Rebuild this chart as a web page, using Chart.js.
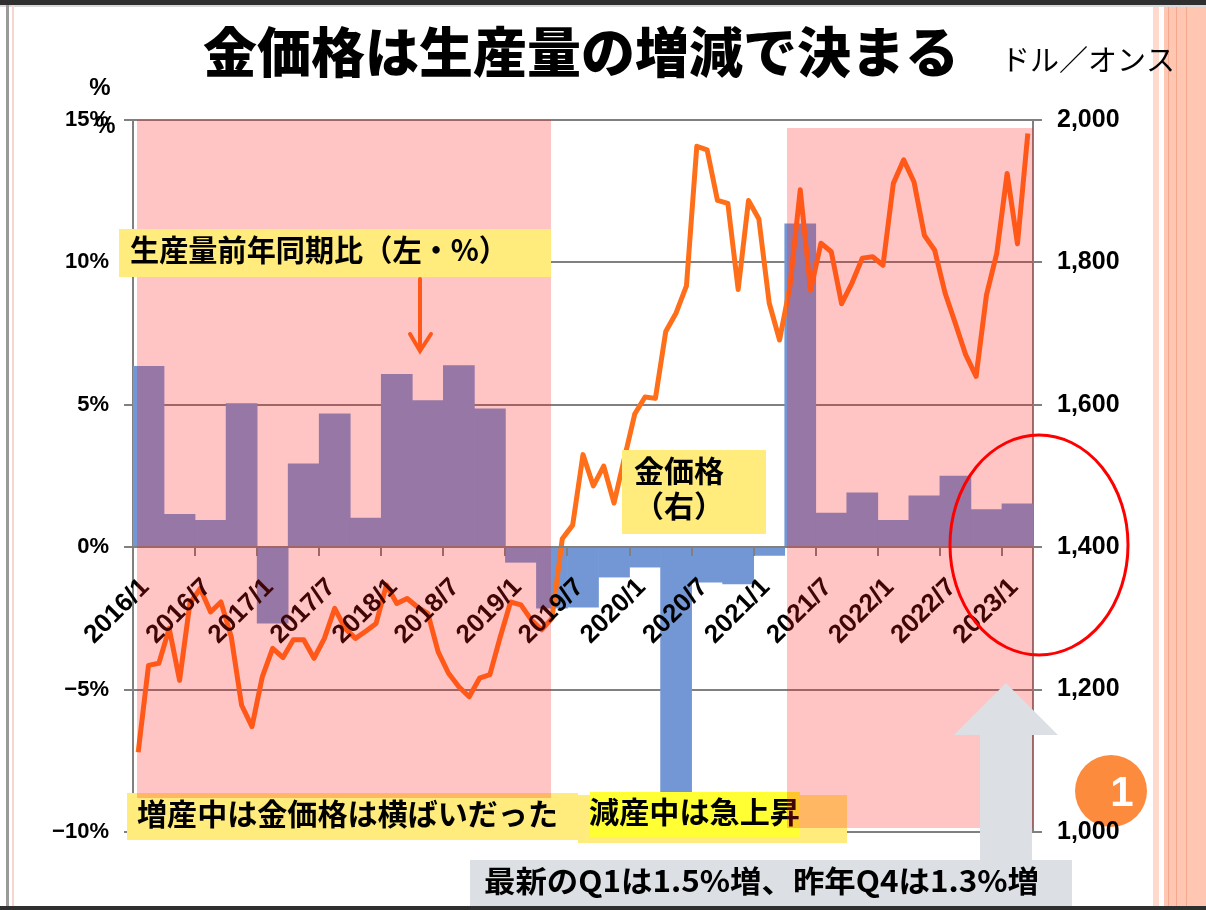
<!DOCTYPE html>
<html lang="ja">
<head>
<meta charset="utf-8">
<title>金価格は生産量の増減で決まる</title>
<script src="https://cdn.jsdelivr.net/npm/chart.js@4.4.1/dist/chart.umd.min.js"></script>
<style>
  html, body { margin: 0; padding: 0; background: #fff; }
  #wrap { width: 1206px; height: 910px; }
</style>
</head>
<body>
<div id="wrap"><canvas id="goldChart" width="1206" height="910"></canvas></div>
<script>
// 生産量前年同期比（四半期、%）2016Q1〜2023Q1
const productionYoY = [
  6.35, 1.15, 0.94, 5.04,
  -2.67, 2.93, 4.68, 1.02,
  6.07, 5.15, 6.38, 4.86,
  -0.53, -2.14, -2.11, -1.05,
  -0.70, -8.70, -1.23, -1.29,
  -0.29, 11.35, 1.20, 1.91,
  0.94, 1.80, 2.50, 1.32,
  1.52
];

// 金価格（月末、ドル／オンス）2016/1〜2023/3
const goldPrice = [
  1112, 1234, 1237, 1286, 1213, 1321, 1342, 1309, 1323, 1274, 1178, 1148,
  1218, 1258, 1245, 1270, 1270, 1244, 1272, 1314, 1286, 1272, 1282, 1293,
  1347, 1321, 1328, 1316, 1307, 1253, 1223, 1204, 1190, 1216, 1221, 1274,
  1323, 1319, 1298, 1284, 1300, 1412, 1431, 1530, 1486, 1514, 1462, 1525,
  1587, 1611, 1609, 1703, 1729, 1767, 1963, 1958, 1887, 1883, 1762, 1887,
  1861, 1743, 1691, 1766, 1902, 1761, 1827, 1815, 1742, 1771, 1806, 1808,
  1796, 1911, 1944, 1913, 1838, 1817, 1757, 1714, 1670, 1640, 1754, 1813,
  1925, 1826, 1981
];

// 軸ラベル
const monthLabels = [];
for (let y = 2016; y <= 2023; y++) {
  for (let m = 1; m <= 12; m++) {
    if (monthLabels.length < goldPrice.length) monthLabels.push(y + '/' + m);
  }
}
const quarterLabels = [];
for (let y = 2016; y <= 2023; y++) {
  for (let q = 1; q <= 4; q++) {
    if (quarterLabels.length < productionYoY.length) quarterLabels.push(y + 'Q' + q);
  }
}
const shownMonths = ['2016/1', '2016/7', '2017/1', '2017/7', '2018/1', '2018/7', '2019/1', '2019/7',
  '2020/1', '2020/7', '2021/1', '2021/7', '2022/1', '2022/7', '2023/1'];
const pctTicks = [-10, -5, 0, 5, 10, 15];
const priceTicks = [1000, 1200, 1400, 1600, 1800, 2000];

const LINE = '#FF6E19';
const BAR = '#7397D5';
const PINK = 'rgba(255, 25, 25, 0.25)';
const YELLOW = '#FFEC7C';
const GRAYBOX = '#DCDFE4';
const AXIS = '#808080';
const JP = '"Noto Sans CJK JP", "Noto Sans", sans-serif';
const LAT = '"Liberation Sans", Arial, sans-serif';

// 文字を指定幅に合わせて描く
function fitText(ctx, text, x, y, font, width) {
  ctx.save();
  ctx.font = font;
  ctx.textAlign = 'left';
  ctx.textBaseline = 'middle';
  const w = ctx.measureText(text).width;
  ctx.translate(x, y);
  if (width) ctx.scale(width / w, 1);
  ctx.fillText(text, 0, 0);
  ctx.restore();
}

function box(ctx, x1, y1, x2, y2, color) {
  ctx.fillStyle = color;
  ctx.fillRect(x1, y1, x2 - x1, y2 - y1);
}

const decor = {
  id: 'decor',
  beforeDraw(chart) {
    const ctx = chart.ctx;
    ctx.save();
    ctx.fillStyle = '#fff';
    ctx.fillRect(0, 0, chart.width, chart.height);
    // スライドの枠
    box(ctx, 0, 0, 1206, 5, '#2f2f2f');
    box(ctx, 0, 5, 1206, 7, '#d9d9d9');
    box(ctx, 6, 5, 9, 907, '#9a9a9a');
    box(ctx, 12, 5, 14, 907, '#f6d6cf');
    box(ctx, 1153, 7, 1159, 907, '#FFD9CC');
    box(ctx, 1164, 7, 1206, 907, '#FFC6B1');
    [1168, 1176, 1186].forEach(x => box(ctx, x, 7, x + 1, 907, '#F4A98E'));
    // 丸数字
    ctx.fillStyle = '#FD8B3E';
    ctx.beginPath();
    ctx.arc(1111, 791, 36, 0, Math.PI * 2);
    ctx.fill();
    ctx.fillStyle = '#fff';
    ctx.font = 'bold 42px ' + LAT;
    ctx.textAlign = 'center';
    ctx.textBaseline = 'middle';
    ctx.fillText('1', 1122, 794);
    // タイトル
    ctx.fillStyle = '#000';
    ctx.font = '900 54px ' + JP;
    ctx.fillText('金価格は生産量の増減で決まる', 581, 52);
    ctx.font = '29px ' + JP;
    ctx.fillText('ドル／オンス', 1088, 60);
    ctx.font = 'bold 24px ' + LAT;
    ctx.fillText('%', 100, 88);
    ctx.restore();
  },
  afterDraw(chart) {
    const ctx = chart.ctx;
    ctx.save();
    // 生産量ラベルからの矢印
    ctx.strokeStyle = LINE;
    ctx.lineWidth = 4;
    ctx.lineCap = 'round';
    ctx.beginPath();
    ctx.moveTo(420, 279);
    ctx.lineTo(420, 349);
    ctx.stroke();
    ctx.beginPath();
    ctx.moveTo(410, 334);
    ctx.lineTo(420, 351);
    ctx.lineTo(431, 334);
    ctx.stroke();

    // 下のラベル（網掛けの下）
    box(ctx, 127, 793, 578, 840, YELLOW);
    ctx.fillStyle = '#000';
    fitText(ctx, '増産中は金価格は横ばいだった', 137, 814, 'bold 30px ' + JP, 421);
    box(ctx, 578, 795, 847, 843, YELLOW);
    box(ctx, 590, 792, 800, 837, '#FFFF33');
    ctx.fillStyle = '#000';
    fitText(ctx, '減産中は急上昇', 589, 812, 'bold 30px ' + JP, 211);

    box(ctx, 622, 450, 766, 534, YELLOW);
    ctx.fillStyle = '#000';
    ctx.font = 'bold 30px ' + JP;
    ctx.textAlign = 'center';
    ctx.textBaseline = 'middle';
    ctx.fillText('金価格', 679, 471);
    ctx.fillText('（右）', 679, 506);

    // 増産期の網掛け
    ctx.fillStyle = PINK;
    ctx.fillRect(137, 120, 414, 678);
    ctx.fillRect(787, 128, 246, 700);

    // 生産量ラベル
    box(ctx, 119, 229, 551, 277, YELLOW);
    ctx.fillStyle = '#000';
    fitText(ctx, '生産量前年同期比（左・%）', 130, 250, 'bold 30px ' + JP, 378);

    // 灰色の上向き矢印
    ctx.fillStyle = GRAYBOX;
    ctx.beginPath();
    ctx.moveTo(1006, 683);
    ctx.lineTo(1058, 735);
    ctx.lineTo(1032, 735);
    ctx.lineTo(1032, 860);
    ctx.lineTo(980, 860);
    ctx.lineTo(980, 735);
    ctx.lineTo(954, 735);
    ctx.closePath();
    ctx.fill();

    // 赤い楕円
    ctx.strokeStyle = '#FF0000';
    ctx.lineWidth = 3;
    ctx.beginPath();
    ctx.ellipse(1039, 545, 89, 110, 0, 0, Math.PI * 2);
    ctx.stroke();

    // 最新値のボックス
    box(ctx, 470, 860, 1072, 907, GRAYBOX);
    ctx.fillStyle = '#000';
    fitText(ctx, '最新のQ1は1.5%増、昨年Q4は1.3%増', 484, 881, 'bold 30px ' + JP, 555);
    ctx.font = 'bold 23px ' + LAT;
    ctx.textAlign = 'left';
    ctx.textBaseline = 'middle';
    ctx.fillText('%', 95, 127);
    box(ctx, 0, 906, 1206, 910, '#2f2f2f');
    ctx.restore();
  }
};

new Chart(document.getElementById('goldChart'), {
  type: 'bar',
  data: {
    labels: monthLabels,
    datasets: [
      {
        type: 'line',
        label: '金価格（右）',
        data: goldPrice,
        xAxisID: 'x',
        yAxisID: 'y1',
        borderColor: LINE,
        borderWidth: 5,
        borderJoinStyle: 'round',
        pointRadius: 0,
        tension: 0,
        order: 1
      },
      {
        type: 'bar',
        label: '生産量前年同期比（左・%）',
        data: productionYoY,
        xAxisID: 'xq',
        yAxisID: 'y',
        backgroundColor: BAR,
        grouped: false,
        barPercentage: 1,
        categoryPercentage: 1,
        order: 2
      }
    ]
  },
  options: {
    responsive: false,
    animation: false,
    devicePixelRatio: 1,
    layout: { padding: { top: 120, bottom: 78, left: 0, right: 0 } },
    scales: {
      x: {
        type: 'category',
        axis: 'x',
        labels: monthLabels,
        position: { y: 0 },
        offset: true,
        grid: {
          offset: true,
          drawOnChartArea: false,
          tickLength: 8,
          lineWidth: 2,
          z: 1,
          color: c => (c.index !== undefined && c.index % 6 === 0) ? AXIS : 'rgba(0,0,0,0)'
        },
        border: { display: true, color: AXIS, width: 2, z: 1 },
        ticks: {
          z: 1,
          autoSkip: false,
          minRotation: 45,
          maxRotation: 45,
          padding: 17,
          labelOffset: 7,
          color: '#000',
          font: { family: LAT, size: 26, weight: 'bold' },
          callback: function (v, i) {
            const lab = monthLabels[i];
            return shownMonths.includes(lab) ? lab : '';
          }
        }
      },
      xq: {
        type: 'category',
        axis: 'x',
        labels: quarterLabels,
        offset: true,
        display: false,
        grid: { offset: true }
      },
      y: {
        type: 'linear',
        axis: 'y',
        position: 'left',
        min: -10,
        max: 15,
        afterBuildTicks: a => { a.ticks = pctTicks.map(v => ({ value: v })); },
        afterFit: a => { a.width = 133; },
        grid: { color: AXIS, lineWidth: 2, tickLength: 9 },
        border: { color: AXIS, width: 2 },
        ticks: {
          padding: 15,
          color: '#000',
          font: { family: LAT, size: 22, weight: 'bold' },
          callback: v => (v < 0 ? '\u2212' + Math.abs(v) : v) + '%'
        }
      },
      y1: {
        type: 'linear',
        axis: 'y',
        position: 'right',
        min: 1000,
        max: 2000,
        afterBuildTicks: a => { a.ticks = priceTicks.map(v => ({ value: v })); },
        afterFit: a => { a.width = 1206 - 1033; },
        grid: { drawOnChartArea: false, color: AXIS, lineWidth: 2, tickLength: 9 },
        border: { color: AXIS, width: 2 },
        ticks: {
          padding: 15,
          color: '#000',
          font: { family: LAT, size: 25, weight: 'bold' },
          callback: v => v.toLocaleString('en-US')
        }
      }
    },
    plugins: {
      legend: { display: false },
      tooltip: { enabled: false }
    }
  },
  plugins: [decor]
});
</script>
</body>
</html>
